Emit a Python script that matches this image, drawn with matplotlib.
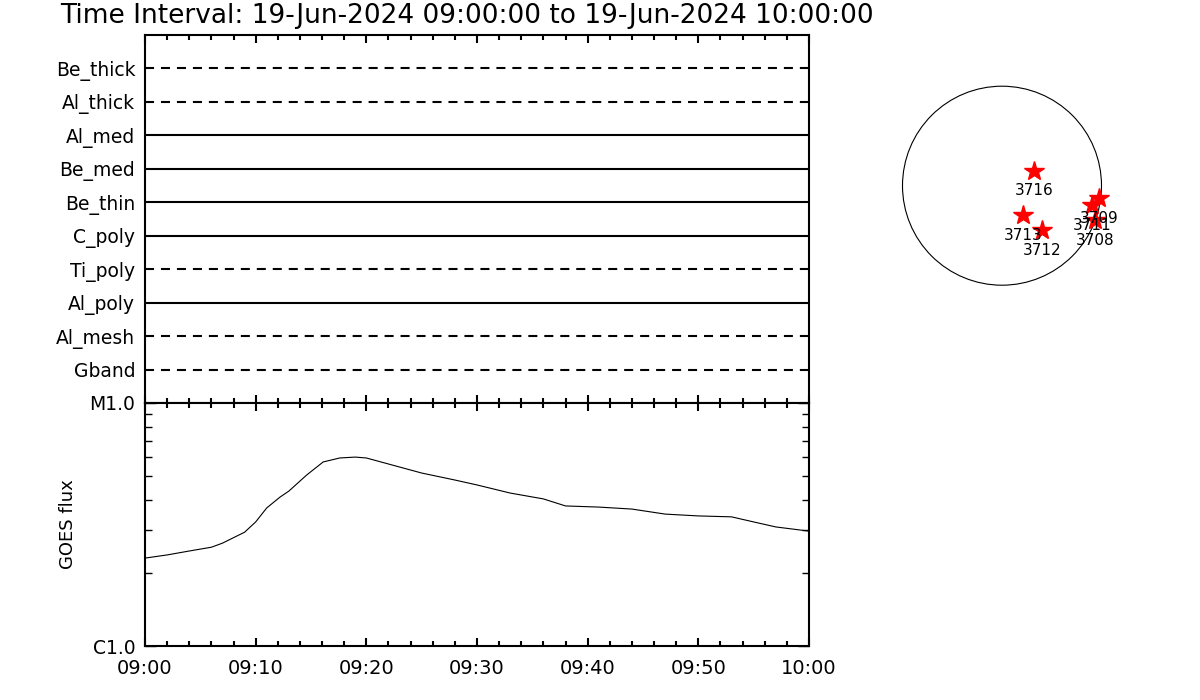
import numpy as np
import matplotlib
matplotlib.use("Agg")
import matplotlib.pyplot as plt
from matplotlib.ticker import MultipleLocator, LogLocator, NullFormatter
from matplotlib.patches import Circle

# Filter channels, top to bottom, and whether the channel line is dashed
filters = ["Be_thick", "Al_thick", "Al_med", "Be_med", "Be_thin",
           "C_poly", "Ti_poly", "Al_poly", "Al_mesh", "Gband"]
dashed = [True, True, False, False, False, False, True, False, True, True]

# GOES curve: minutes after 09:00 and flux in W/m^2
goes_min = [0, 2, 4, 6, 7, 9, 10, 11, 12.2, 13, 14.6, 16.1, 17.6, 19, 20, 22,
            25, 28, 30, 33, 36, 38, 41, 44, 47, 50, 53, 55, 57, 60]
goes_flux = [2.30, 2.37, 2.46, 2.55, 2.65, 2.94, 3.24, 3.70, 4.10, 4.34, 5.05,
             5.72, 5.94, 5.99, 5.94, 5.61, 5.15, 4.82, 4.60, 4.26, 4.03, 3.77,
             3.73, 3.66, 3.49, 3.43, 3.40, 3.24, 3.09, 2.97]
goes_flux = [f * 1e-6 for f in goes_flux]

time_ticks = ["09:00", "09:10", "09:20", "09:30", "09:40", "09:50", "10:00"]

# Active regions on the disk (arcsec from sun centre)
ar_names = ["3716", "3713", "3712", "3709", "3711", "3708"]
ar_x = [307, 202, 377, 924, 852, 883]
ar_y = [142, -278, -421, -120, -183, -326]
r_sun = 945.0

plt.rcParams['font.family'] = ['DejaVu Sans']
plt.rcParams['lines.scale_dashes'] = False

W, H = 1200, 700
fig = plt.figure(figsize=(W / 100, H / 100), dpi=100)

def box(l, t, r, b):
    return [l / W, 1 - b / H, (r - l) / W, (b - t) / H]

# ---- filter panel
ax1 = fig.add_axes(box(145, 35, 809, 403))
n = len(filters)
ypos = np.arange(n, 0, -1)
for name, y, d in zip(filters, ypos, dashed):
    ls = (0, (6.5, 5.0)) if d else '-'
    ax1.plot([0, 60], [y, y], color='black', lw=1.5, ls=ls)
ax1.set_xlim(0, 60)
ax1.set_ylim(0, n + 1)
ax1.set_yticks(ypos)
ax1.set_yticklabels(filters, fontsize=13.5)
ax1.tick_params(axis='y', length=0, pad=7)
ax1.xaxis.set_major_locator(MultipleLocator(10))
ax1.xaxis.set_minor_locator(MultipleLocator(2))
ax1.tick_params(axis='x', which='both', direction='in', top=True, bottom=True,
                labelbottom=False, width=1.5)
ax1.tick_params(axis='x', which='major', length=6)
ax1.tick_params(axis='x', which='minor', length=3.5)
for s in ax1.spines.values():
    s.set_linewidth(1.5)

# ---- GOES panel
ax2 = fig.add_axes(box(145, 403, 809, 646))
ax2.plot(goes_min, goes_flux, color='black', lw=0.8)
ax2.set_xlim(0, 60)
ax2.set_yscale('log')
ax2.set_ylim(1e-6, 1e-5)
ax2.set_yticks([1e-6, 1e-5])
ax2.set_yticklabels(["C1.0", "M1.0"], fontsize=13.5)
ax2.yaxis.set_minor_locator(LogLocator(base=10, subs=np.arange(2, 10)))
ax2.yaxis.set_minor_formatter(NullFormatter())
ax2.tick_params(axis='y', which='both', direction='in', left=True, right=True,
                width=1, pad=7)
ax2.tick_params(axis='y', which='minor', length=5)
ax2.tick_params(axis='y', which='major', length=8)
ax2.set_xticks(np.arange(0, 61, 10))
ax2.set_xticklabels(time_ticks, fontsize=14)
ax2.xaxis.set_minor_locator(MultipleLocator(2))
ax2.tick_params(axis='x', which='both', direction='in', top=True, bottom=True,
                width=1.5, pad=9)
ax2.tick_params(axis='x', which='major', length=6)
ax2.tick_params(axis='x', which='minor', length=3.5)
ax2.set_ylabel("GOES flux", fontsize=13, labelpad=9)
for s in ax2.spines.values():
    s.set_linewidth(1.5)

# ---- solar disk
ax3 = fig.add_axes(box(880, 63.7, 1124, 307.7))
lim = r_sun * 122 / 99.5
ax3.set_xlim(-lim, lim)
ax3.set_ylim(-lim, lim)
ax3.set_aspect('equal')
ax3.axis('off')
ax3.add_patch(Circle((0, 0), r_sun, fill=False, color='black', lw=0.8))
ax3.plot(ar_x, ar_y, ls='none', marker='*', ms=15, color='red', mec='red')
for nm, x, y in zip(ar_names, ar_x, ar_y):
    ax3.annotate(nm, (x, y), xytext=(0, -14.5), textcoords='offset points',
                 ha='center', va='center', fontsize=11)

fig.text(60 / W, 1 - 16 / H,
         "Time Interval: 19-Jun-2024 09:00:00 to 19-Jun-2024 10:00:00",
         fontsize=19, va='center', ha='left')

fig.savefig("out.png", dpi=100)
